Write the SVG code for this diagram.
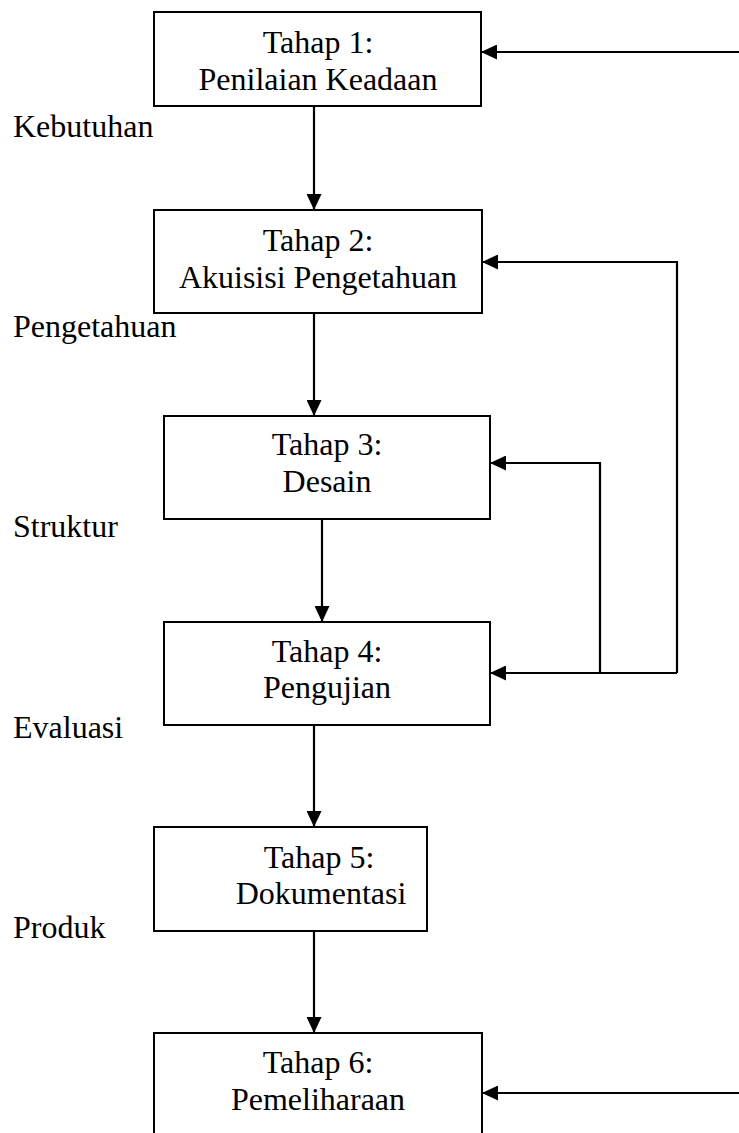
<svg xmlns="http://www.w3.org/2000/svg" width="739" height="1133" viewBox="0 0 739 1133">
<style>
.box{fill:#fff;stroke:#000;stroke-width:2}
.t{font-family:"Liberation Serif","Times New Roman",serif;font-size:32px;fill:#000}
.c{text-anchor:middle}
.ln{fill:none;stroke:#000;stroke-width:2.2}
</style>
<defs>
<marker id="ah" markerUnits="userSpaceOnUse" markerWidth="16" markerHeight="15" refX="16" refY="7.5" orient="auto">
<path d="M0,0 L16,7.5 L0,15 Z" fill="#000"/>
</marker>
</defs>
<rect width="739" height="1133" fill="#fff"/>
<g id="connectors">
<line class="ln" x1="314" y1="106" x2="314" y2="210" marker-end="url(#ah)"/>
<line class="ln" x1="314" y1="313" x2="314" y2="416" marker-end="url(#ah)"/>
<line class="ln" x1="322" y1="519" x2="322" y2="622" marker-end="url(#ah)"/>
<line class="ln" x1="314" y1="725" x2="314" y2="827" marker-end="url(#ah)"/>
<line class="ln" x1="314" y1="931" x2="314" y2="1033" marker-end="url(#ah)"/>
<line class="ln" x1="739" y1="52" x2="481" y2="52" marker-end="url(#ah)"/>
<line class="ln" x1="739" y1="1093" x2="482" y2="1093" marker-end="url(#ah)"/>
<polyline class="ln" points="677,673 677,262 482,262" marker-end="url(#ah)"/>
<polyline class="ln" points="600,673 600,463 490,463" marker-end="url(#ah)"/>
<line class="ln" x1="677" y1="673" x2="490" y2="673" marker-end="url(#ah)"/>
</g>
<g id="n1"><rect class="box" x="154" y="12" width="327" height="94"/>
<text class="t c" x="318" y="53">Tahap 1:</text><text class="t c" x="318" y="90">Penilaian Keadaan</text></g>
<g id="n2"><rect class="box" x="154" y="210" width="328" height="103"/>
<text class="t c" x="318" y="251">Tahap 2:</text><text class="t c" x="318" y="288">Akuisisi Pengetahuan</text></g>
<g id="n3"><rect class="box" x="164" y="416" width="326" height="103"/>
<text class="t c" x="327" y="455">Tahap 3:</text><text class="t c" x="327" y="492">Desain</text></g>
<g id="n4"><rect class="box" x="164" y="622" width="326" height="103"/>
<text class="t c" x="327" y="662">Tahap 4:</text><text class="t c" x="327" y="698">Pengujian</text></g>
<g id="n5"><rect class="box" x="154" y="827" width="273" height="104"/>
<text class="t c" x="319" y="868">Tahap 5:</text><text class="t c" x="321" y="904">Dokumentasi</text></g>
<g id="n6"><rect class="box" x="154" y="1033" width="328" height="110"/>
<text class="t c" x="318" y="1073">Tahap 6:</text><text class="t c" x="318" y="1110">Pemeliharaan</text></g>
<g id="labels">
<text class="t" x="13" y="137">Kebutuhan</text>
<text class="t" x="13" y="337">Pengetahuan</text>
<text class="t" x="13" y="537">Struktur</text>
<text class="t" x="13" y="738">Evaluasi</text>
<text class="t" x="13" y="938">Produk</text>
</g>
</svg>
